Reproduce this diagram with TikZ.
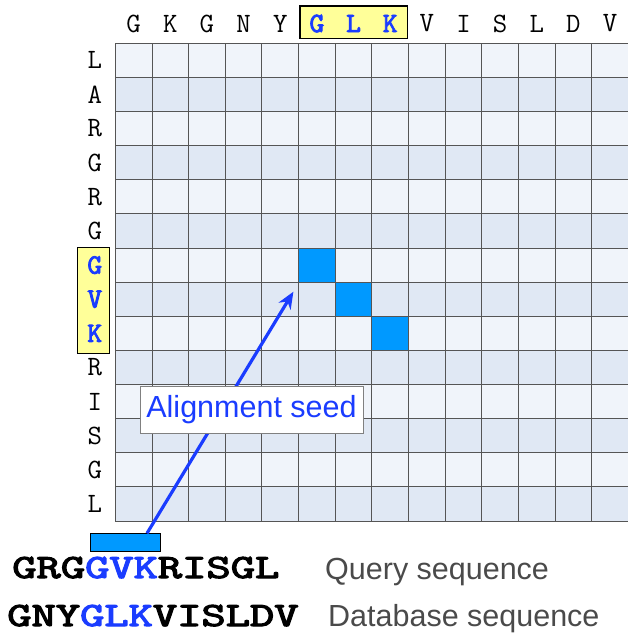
\documentclass[tikz,border=0pt]{standalone}
\usepackage{fontspec}
\setmainfont{Liberation Serif}
\setsansfont{Liberation Sans}
\newfontfamily\heavymono{lmmono10-regular.otf}[FakeBold=3]
\usetikzlibrary{arrows.meta,calc,positioning}
\definecolor{RowLight}{HTML}{F0F4FA}
\definecolor{RowDark}{HTML}{E0E8F4}
\definecolor{HitClr}{HTML}{0099FF}
\definecolor{SeqBlue}{HTML}{1A3CFF}
\definecolor{HiClr}{HTML}{FFFF99}
\definecolor{GridClr}{HTML}{555555}
\definecolor{NoteClr}{HTML}{4A4A4A}

\begin{document}
\begin{tikzpicture}[x=1pt,y=-1pt,
  letter/.style={font=\ttfamily\fontsize{28}{28}\selectfont,inner sep=0pt},
  hit/.style={letter,font=\heavymono\fontsize{28}{28}\selectfont,text=SeqBlue},
  hibox/.style={draw=black,line width=1.3pt,fill=HiClr},
  gridline/.style={GridClr,line width=0.9pt},
  cell/.style={fill=HitClr,draw=GridClr,line width=0.9pt},
  seq/.style={font=\heavymono\fontsize{34}{34}\selectfont,anchor=base west,inner sep=0pt,xscale=1.36},
  note/.style={font=\sffamily\fontsize{30.5}{30.5}\selectfont,text=NoteClr,anchor=base west,inner sep=0pt}]
\useasboundingbox (0,0) rectangle (627,634);

\begin{scope}[shift={(115.3,43.3)},x=36.65pt,y=-34.12pt]
\fill[RowLight] (0,0) rectangle (14,14);
\foreach \r in {1,3,...,13}
  \fill[RowDark] (0,\r) rectangle (14,\r+1);
\foreach \i in {0,...,14} {
  \draw[gridline] (\i,0) -- (\i,14);
  \draw[gridline] (0,\i) -- (14,\i);
}

\draw[cell] (5,6) rectangle (6,7);
\draw[cell] (6,7) rectangle (7,8);
\draw[cell] (7,8) rectangle (8,9);

\draw[hibox] (5.04,-1.09) rectangle (7.97,-0.15);
\draw[hibox] (-1.03,5.98) rectangle (-0.15,9.1);

\foreach \c/\s [count=\i] in {G/letter,K/letter,G/letter,N/letter,Y/letter,G/hit,L/hit,K/hit,V/letter,I/letter,S/letter,L/letter,D/letter,V/letter}
  \node[\s] (db\i) at (\i-0.5,-0.58) {\c};
\foreach \c/\s [count=\i] in {L/letter,A/letter,R/letter,G/letter,R/letter,G/letter,G/hit,V/hit,K/hit,R/letter,I/letter,S/letter,G/letter,L/letter}
  \node[\s] (qr\i) at (-0.56,\i-0.5) {\c};

\coordinate (tip) at (4.86,7.28);
\end{scope}

\node[draw=black,fill=HitClr,minimum width=70pt,minimum height=18pt,inner sep=0pt] (seed) at (125,542.5) {};
\draw[SeqBlue,line width=3.2pt,-{Stealth[length=17pt,width=14pt]}] ([xshift=22pt]seed.north) -- (tip);

\node[draw=gray,fill=white,text=SeqBlue,font=\sffamily\fontsize{30.5}{30.5}\selectfont,minimum width=223pt,minimum height=47pt,inner sep=0pt] (seedlbl) at (251.5,409.5) {Alignment seed};

\node[seq] (query) at (12,578) {GRG\textcolor{SeqBlue}{GVK}RISGL};
\node[seq] (db) at (7,626) {GNY\textcolor{SeqBlue}{GLK}VISLDV};
\node[note] (querylbl) at (325,579) {Query sequence};
\node[note] (dblbl) at (328,626) {Database sequence};

\end{tikzpicture}
\end{document}
